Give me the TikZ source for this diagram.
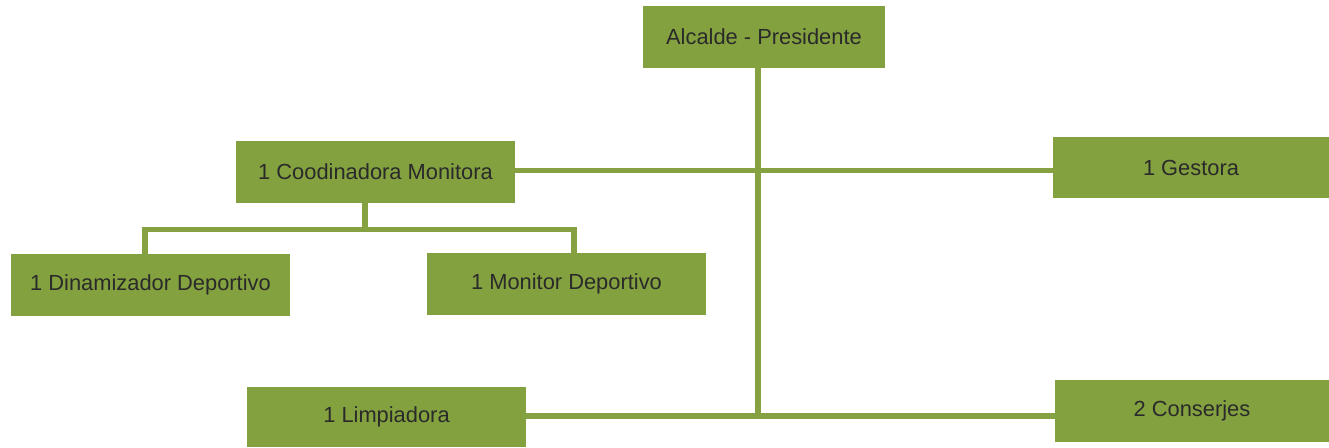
\documentclass[tikz,border=0pt]{standalone}
\usepackage{fontspec}
\setmainfont{Liberation Sans}
\usepackage{xcolor}
\usepackage{tikz}
\usetikzlibrary{positioning,calc}

\definecolor{olivebox}{RGB}{132,161,64}
\definecolor{oliveline}{RGB}{134,161,66}
\definecolor{boxtext}{RGB}{42,42,42}

\tikzset{
    post/.style={fill=olivebox, text=boxtext, inner sep=0pt, minimum width=209.25pt, minimum height=46.5pt, font=\fontsize{16.4}{18}\selectfont},
    link/.style={draw=oliveline, line width=4.1pt}
}

\begin{document}
\begin{tikzpicture}[x=0.75pt, y=-0.75pt]
    \useasboundingbox (0,0) rectangle (1329,447);

    \node[post, minimum width=181.5pt] (alcalde) at (764,37) {Alcalde - Presidente};
    \node[post] (coord) at (375.5,172) {1 Coodinadora Monitora};
    \node[post, minimum width=207pt, minimum height=45.75pt] (gestora) at (1191,167.5) {1 Gestora};
    \node[post] (dinam) at (150.5,285) {1 Dinamizador Deportivo};
    \node[post] (monitor) at (566.5,284) {1 Monitor Deportivo};
    \node[post, minimum height=45pt] (limp) at (386.5,417) {1 Limpiadora};
    \node[post, minimum width=205.5pt] (conserjes) at (1192,411) {2 Conserjes};

    % Junctions
    \coordinate (hub) at (758,170.3);
    \coordinate (foot) at (758,416);
    \coordinate (split) at (365,229.5);
    \coordinate (lbranch) at (145,229.5);
    \coordinate (rbranch) at (574,229.5);

    \draw[link] (alcalde.south -| hub) -- (foot);
    \draw[link] (coord.east |- hub) -- (gestora.west |- hub);
    \draw[link] (limp.east |- foot) -- (conserjes.west |- foot);
    \draw[link] (coord.south -| split) -- (split);
    \draw[link] (lbranch |- dinam.north) -- (lbranch) -- (rbranch) -- (rbranch |- monitor.north);
\end{tikzpicture}
\end{document}
